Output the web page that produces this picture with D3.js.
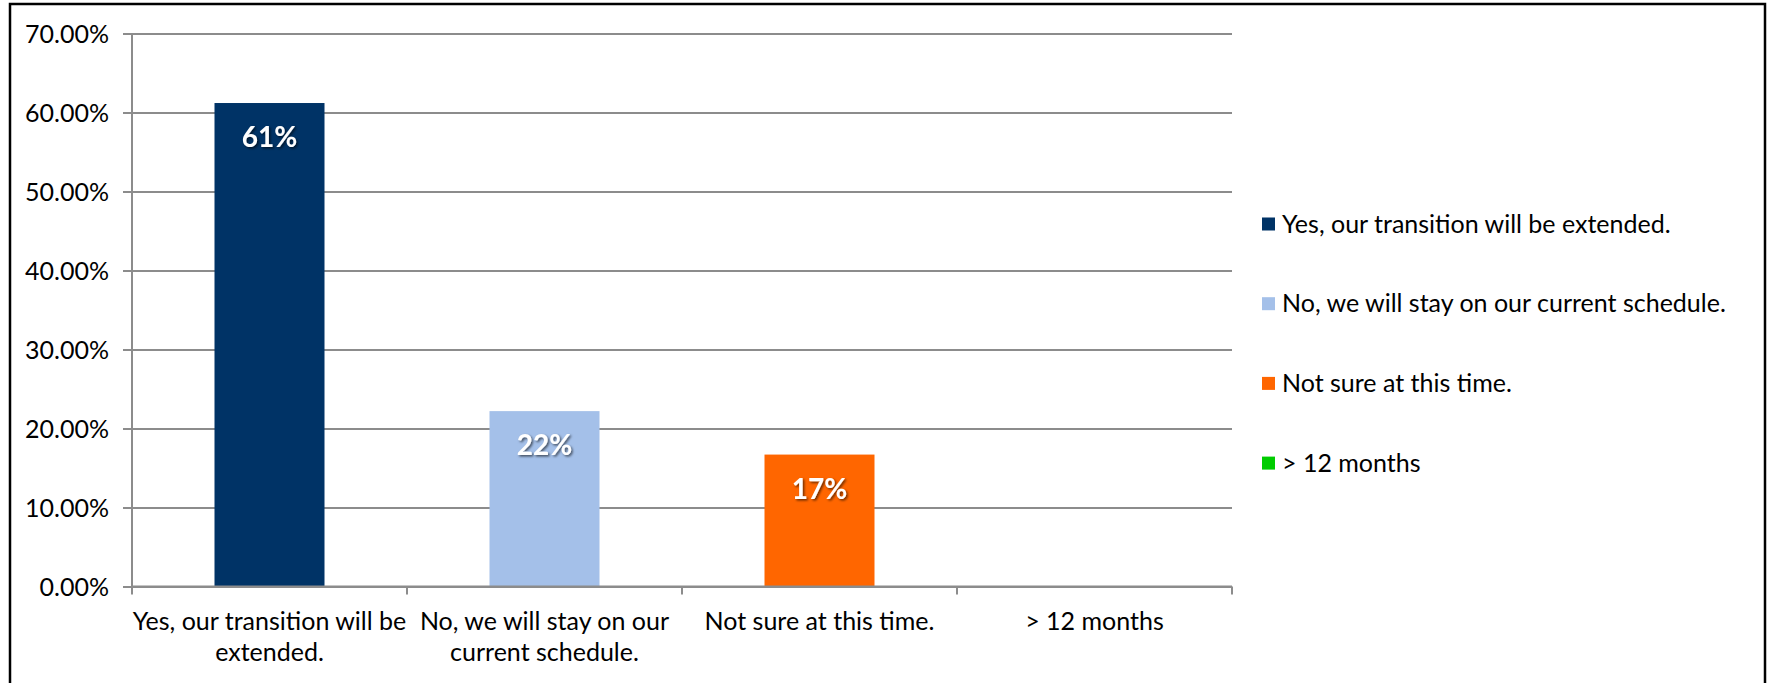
<!DOCTYPE html>
<html>
<head>
<meta charset="utf-8">
<script src="https://cdn.jsdelivr.net/npm/d3@7"></script>
<style>
  html, body { margin: 0; padding: 0; background: #ffffff; }
  svg { display: block; }
  text { font-family: Lato, "Open Sans", sans-serif; }
</style>
</head>
<body>
<svg id="chart" width="1771" height="683"></svg>
<script>
// Survey responses: will the transition be extended?
const categories = [
  "Yes, our transition will be extended.",
  "No, we will stay on our current schedule.",
  "Not sure at this time.",
  "> 12 months"
];
const values = [0.612, 0.222, 0.167, null];
const colors = ["#003366", "#A4C0E9", "#FF6600", "#00CC00"];
const categoryLines = [
  ["Yes, our transition will be", "extended."],
  ["No, we will stay on our", "current schedule."],
  ["Not sure at this time."],
  ["> 12 months"]
];
const yTicks = [0, 0.1, 0.2, 0.3, 0.4, 0.5, 0.6, 0.7];

const svg = d3.select("#chart");
const plot = { left: 132, right: 1232, top: 33.5, bottom: 586.5 };
const fontSize = 25;
const gridColor = "#8C8C8C";

// outer frame
svg.append("rect")
  .attr("x", 10).attr("y", 4)
  .attr("width", 1755).attr("height", 700)
  .attr("fill", "#ffffff")
  .attr("stroke", "#000000").attr("stroke-width", 2.5);

const x = d3.scaleBand()
  .domain(categories)
  .range([plot.left, plot.right])
  .paddingInner(0.6)
  .paddingOuter(0.3);

const y = d3.scaleLinear()
  .domain([0, 0.7])
  .range([plot.bottom, plot.top]);

// horizontal gridlines with left tick stubs
const yAxis = d3.axisLeft(y)
  .tickValues(yTicks)
  .tickSize(-(plot.right - plot.left))
  .tickFormat(d3.format(".2%"));

const gy = svg.append("g")
  .attr("transform", `translate(${plot.left},0)`)
  .call(yAxis);
gy.select(".domain").remove();
gy.selectAll(".tick line")
  .attr("x1", -9)
  .attr("stroke", gridColor).attr("stroke-width", 2);
gy.selectAll(".tick text")
  .attr("x", -23)
  .attr("dy", "0.35em")
  .attr("fill", "#000000")
  .style("font-size", fontSize + "px")
  .style("font-family", "Lato, 'Open Sans', sans-serif");

// vertical axis line
svg.append("line")
  .attr("x1", plot.left).attr("x2", plot.left)
  .attr("y1", plot.top).attr("y2", plot.bottom)
  .attr("stroke", gridColor).attr("stroke-width", 2);

// bars
svg.append("g").selectAll("rect")
  .data(categories.map((c, i) => ({ c, v: values[i], color: colors[i] })).filter(d => d.v != null))
  .join("rect")
  .attr("x", d => x(d.c))
  .attr("y", d => y(d.v))
  .attr("width", x.bandwidth())
  .attr("height", d => y(0) - y(d.v))
  .attr("fill", d => d.color);

// category axis with boundary ticks
const step = x.step();
const boundaries = d3.range(categories.length + 1).map(i => plot.left + i * step);
svg.append("line")
  .attr("x1", plot.left).attr("x2", plot.right)
  .attr("y1", y(0)).attr("y2", y(0))
  .attr("stroke", gridColor).attr("stroke-width", 2);
svg.append("g").selectAll("line")
  .data(boundaries)
  .join("line")
  .attr("x1", d => d).attr("x2", d => d)
  .attr("y1", y(0)).attr("y2", y(0) + 8)
  .attr("stroke", gridColor).attr("stroke-width", 2);

// category labels
const catG = svg.append("g").selectAll("text")
  .data(categories.map((c, i) => ({ c, lines: categoryLines[i] })))
  .join("text")
  .attr("text-anchor", "middle")
  .attr("fill", "#000000")
  .style("font-size", fontSize + "px");
catG.selectAll("tspan")
  .data(d => d.lines.map(l => ({ l, c: d.c })))
  .join("tspan")
  .attr("x", d => x(d.c) + x.bandwidth() / 2)
  .attr("y", (d, i) => 630 + i * 31)
  .text(d => d.l);

// value labels with a soft drop shadow
const defs = svg.append("defs");
const f = defs.append("filter").attr("id", "lblShadow")
  .attr("x", "-20%").attr("y", "-20%").attr("width", "140%").attr("height", "140%");
f.append("feDropShadow")
  .attr("dx", 1.5).attr("dy", 1.5).attr("stdDeviation", 1)
  .attr("flood-color", "#000000").attr("flood-opacity", 0.6);

svg.append("g").selectAll("text")
  .data(categories.map((c, i) => ({ c, v: values[i] })).filter(d => d.v != null))
  .join("text")
  .attr("x", d => x(d.c) + x.bandwidth() / 2)
  .attr("y", d => y(d.v) + 44)
  .attr("text-anchor", "middle")
  .attr("fill", "#ffffff")
  .attr("filter", "url(#lblShadow)")
  .style("font-size", "28px")
  .style("font-weight", "bold")
  .text(d => d3.format(".0%")(d.v));

// legend
const legend = svg.append("g").selectAll("g")
  .data(categories.map((c, i) => ({ c, color: colors[i] })))
  .join("g")
  .attr("transform", (d, i) => `translate(1262, ${224 + i * 79.7})`);
legend.append("rect")
  .attr("x", 0).attr("y", -6.5)
  .attr("width", 13).attr("height", 13)
  .attr("fill", d => d.color);
legend.append("text")
  .attr("x", 20)
  .attr("dy", "0.35em")
  .attr("fill", "#000000")
  .style("font-size", fontSize + "px")
  .text(d => d.c);
</script>
</body>
</html>
